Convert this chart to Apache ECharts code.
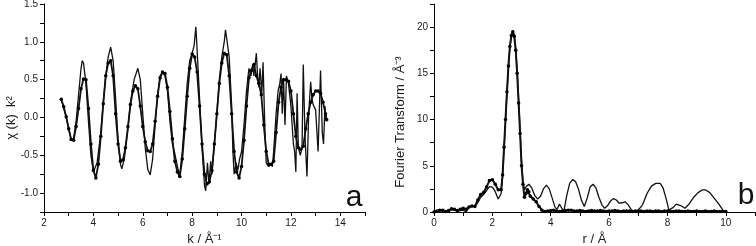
<!DOCTYPE html>
<html>
<head>
<meta charset="utf-8">
<script src="https://cdn.jsdelivr.net/npm/echarts@6/dist/echarts.min.js"></script>
<style>
html,body{margin:0;padding:0;background:#fff;}
#c{width:756px;height:246px;}
</style>
</head>
<body>
<div id="c"></div>
<script>
// ---- Panel a: chi(k) k^2 ----
const kMarked = [2.7,2.8,2.9,3.0,3.1,3.2,3.3,3.4,3.5,3.6,3.7,3.8,3.9,4.0,4.1,4.2,4.3,4.4,4.5,4.6,4.7,4.8,4.9,5.0,5.1,5.2,5.3,5.4,5.5,5.6,5.7,5.8,5.9,6.0,6.1,6.2,6.3,6.4,6.5,6.6,6.7,6.8,6.9,7.0,7.1,7.2,7.3,7.4,7.5,7.6,7.7,7.8,7.9,8.0,8.1,8.2,8.3,8.4,8.5,8.6,8.7,8.8,8.9,9.0,9.1,9.2,9.3,9.4,9.5,9.6,9.7,9.8,9.9,10.0,10.1,10.2,10.3,10.4,10.5,10.6,10.7,10.8,10.9,11.0,11.1,11.2,11.3,11.4,11.5,11.6,11.7,11.8,11.9,12.0,12.1,12.2,12.3,12.4,12.5,12.6,12.7,12.8,12.9,13.0,13.1,13.2,13.3,13.4,13.45];
const chiMarked = [0.24,0.14,0.01,-0.15,-0.29,-0.30,-0.12,0.12,0.38,0.51,0.50,0.12,-0.35,-0.70,-0.80,-0.62,-0.25,0.18,0.55,0.72,0.75,0.55,0.05,-0.35,-0.58,-0.56,-0.40,-0.12,0.17,0.35,0.42,0.38,0.15,-0.12,-0.32,-0.44,-0.45,-0.35,-0.05,0.28,0.52,0.60,0.58,0.40,0.08,-0.28,-0.58,-0.72,-0.78,-0.55,-0.15,0.28,0.65,0.84,0.80,0.60,0.15,-0.35,-0.75,-0.88,-0.85,-0.70,-0.35,0.05,0.45,0.72,0.85,0.83,0.55,0.05,-0.45,-0.72,-0.80,-0.65,-0.30,0.15,0.52,0.62,0.70,0.55,0.45,0.30,-0.10,-0.45,-0.62,-0.62,-0.58,-0.20,0.20,0.40,0.50,0.50,0.48,0.35,0.05,-0.25,-0.40,-0.42,-0.38,-0.15,0.05,0.20,0.30,0.35,0.35,0.32,0.20,0.05,-0.03];
const kPlain = [2.7,2.9,3.1,3.2,3.3,3.4,3.5,3.55,3.6,3.7,3.8,3.9,4.0,4.05,4.15,4.3,4.4,4.5,4.6,4.7,4.8,4.9,5.0,5.1,5.15,5.25,5.4,5.5,5.65,5.8,5.9,6.0,6.1,6.2,6.3,6.4,6.5,6.6,6.7,6.8,6.9,7.0,7.1,7.2,7.3,7.38,7.45,7.5,7.6,7.7,7.8,7.9,8.0,8.08,8.15,8.2,8.3,8.4,8.5,8.55,8.62,8.68,8.75,8.8,8.9,9.0,9.1,9.2,9.3,9.35,9.42,9.5,9.6,9.65,9.7,9.78,9.85,9.92,10.0,10.1,10.2,10.3,10.38,10.45,10.5,10.6,10.65,10.7,10.75,10.82,10.87,10.95,11.0,11.1,11.2,11.25,11.3,11.4,11.48,11.55,11.6,11.65,11.7,11.76,11.82,11.9,12.0,12.1,12.15,12.2,12.25,12.3,12.38,12.45,12.5,12.57,12.65,12.72,12.8,12.85,12.9,13.0,13.1,13.2,13.27,13.32,13.38,13.42];
const chiPlain = [0.24,0.0,-0.30,-0.28,-0.05,0.30,0.65,0.75,0.72,0.45,-0.05,-0.50,-0.72,-0.74,-0.60,-0.20,0.20,0.55,0.80,0.93,0.75,0.25,-0.30,-0.62,-0.68,-0.55,-0.15,0.20,0.50,0.65,0.50,0.05,-0.40,-0.68,-0.76,-0.55,-0.10,0.30,0.55,0.60,0.55,0.35,-0.05,-0.35,-0.48,-0.47,-0.72,-0.75,-0.45,0.0,0.45,0.75,0.85,0.95,1.20,0.90,0.25,-0.40,-0.90,-0.97,-0.60,-0.88,-0.58,-0.75,-0.35,0.05,0.50,0.80,1.0,1.16,1.18,0.80,0.15,-0.45,-0.75,-0.60,-0.70,-0.55,-0.45,-0.10,0.35,0.65,0.55,0.70,0.55,0.85,0.55,0.40,0.65,0.30,0.73,-0.20,-0.60,-0.65,-0.62,-0.65,-0.45,0.05,0.35,0.45,0.58,0.05,0.52,-0.10,0.55,0.45,0.15,-0.35,-0.45,-0.72,0.32,-0.40,-0.50,-0.40,0.70,-0.25,-0.78,0.05,0.47,0.25,0.17,0.10,-0.45,0.62,-0.20,-0.35,0.15,-0.05];

// ---- Panel b: Fourier transform ----
const rMarked = [0.0,0.1,0.2,0.3,0.4,0.5,0.6,0.7,0.8,0.9,1.0,1.1,1.2,1.3,1.4,1.5,1.6,1.7,1.8,1.9,2.0,2.1,2.2,2.3,2.35,2.4,2.45,2.5,2.55,2.6,2.65,2.7,2.75,2.8,2.85,2.9,2.95,3.0,3.05,3.1,3.15,3.2,3.25,3.3,3.4,3.5,3.6,3.7,3.8,3.9,4.0,4.1,4.2,4.3,4.4,4.5,4.6,4.7,4.8,4.9,5.0,5.1,5.2,5.3,5.4,5.5,5.6,5.7,5.8,5.9,6.0,6.1,6.2,6.3,6.4,6.5,6.6,6.7,6.8,6.9,7.0,7.1,7.2,7.3,7.4,7.5,7.6,7.7,7.8,7.9,8.0,8.1,8.2,8.3,8.4,8.5,8.6,8.7,8.8,8.9,9.0,9.1,9.2,9.3,9.4,9.5,9.6,9.7,9.8,9.9,10.0];
const ftMarked = [0.0,0.1,0.2,0.2,0.05,0.15,0.35,0.3,0.15,0.3,0.4,0.3,0.55,0.65,0.6,1.3,1.9,2.1,2.7,3.4,3.5,3.0,2.4,2.4,4.0,7.0,10.0,13.0,15.8,17.9,19.1,19.5,19.0,17.5,15.0,11.8,8.5,5.0,3.0,1.6,2.0,2.4,2.2,1.7,1.4,1.1,0.6,0.2,0.05,0.1,0.15,0.2,0.1,0.05,0.1,0.15,0.2,0.2,0.1,0.1,0.15,0.1,0.05,0.1,0.15,0.1,0.1,0.15,0.1,0.05,0.1,0.1,0.15,0.1,0.05,0.1,0.1,0.1,0.05,0.1,0.1,0.1,0.05,0.1,0.1,0.05,0.1,0.1,0.05,0.1,0.1,0.05,0.05,0.1,0.1,0.05,0.05,0.1,0.05,0.05,0.1,0.05,0.05,0.1,0.05,0.05,0.1,0.05,0.05,0.05,0.05];
const rPlain = [0.0,0.2,0.3,0.5,0.6,0.8,1.0,1.1,1.2,1.3,1.4,1.5,1.6,1.7,1.8,1.9,2.0,2.1,2.2,2.25,2.3,2.35,2.4,2.45,2.5,2.55,2.6,2.65,2.7,2.75,2.8,2.85,2.9,2.95,3.0,3.05,3.1,3.15,3.25,3.35,3.45,3.55,3.65,3.75,3.85,3.95,4.05,4.15,4.22,4.3,4.38,4.45,4.55,4.65,4.75,4.85,4.95,5.05,5.15,5.25,5.35,5.45,5.55,5.65,5.75,5.85,5.95,6.05,6.15,6.25,6.35,6.45,6.55,6.65,6.75,6.85,6.95,7.05,7.15,7.3,7.45,7.6,7.75,7.85,7.95,8.05,8.1,8.2,8.3,8.45,8.6,8.75,8.9,9.05,9.2,9.3,9.45,9.6,9.75,9.9,9.95];
const ftPlain = [0.0,0.1,0.15,0.05,0.25,0.1,0.2,0.0,0.5,0.7,0.6,1.0,1.6,1.9,2.3,2.75,2.7,2.2,1.4,1.3,2.0,3.8,6.8,9.8,12.8,15.6,17.8,19.0,19.6,19.1,17.7,15.3,12.2,8.9,5.5,3.3,2.4,2.7,3.0,2.6,1.8,1.4,1.7,2.5,2.9,2.5,1.5,0.5,0.3,0.85,0.4,0.1,1.8,3.1,3.5,3.3,2.5,1.3,0.6,1.5,2.7,3.0,2.6,1.6,0.8,0.4,0.7,1.2,1.45,1.3,0.95,1.0,1.1,0.8,0.3,0.0,0.05,0.4,0.8,2.0,2.8,3.1,3.1,2.6,1.5,0.2,0.0,0.5,0.85,0.7,0.4,0.9,1.6,2.1,2.4,2.4,2.1,1.5,0.9,0.2,0.0];

// ticks
const kTicks = [2,4,6,8,10,12,14];
const chiTicks = [-1.0,-0.5,0.0,0.5,1.0,1.5];
const rTicks = [0,2,4,6,8,10];
const ftTicks = [0,5,10,15,20];

const zip = (a,b) => a.map((v,i)=>[v,b[i]]);
const FONT = '"Liberation Sans", Arial, sans-serif';
const TXT = '#1a1a1a';

function xAxisCfg(gi, min, max, ticks, name, gap) {
  return {
    type:'value', gridIndex:gi, min:min, max:max, interval:1,
    name:name, nameLocation:'middle', nameGap:gap,
    nameTextStyle:{fontFamily:FONT, fontSize:13, color:TXT},
    axisLine:{show:true, onZero:false, lineStyle:{color:'#000', width:1}},
    axisTick:{show:true, inside:false, length:4, lineStyle:{color:'#000'}},
    axisLabel:{fontFamily:FONT, fontSize:10, color:TXT, margin:6,
      formatter: v => ticks.indexOf(v) >= 0 ? String(v) : ''},
    splitLine:{show:false}
  };
}
function yAxisCfg(gi, min, max, interval, ticks, fmt) {
  return {
    type:'value', gridIndex:gi, min:min, max:max, interval:interval,
    axisLine:{show:true, onZero:false, lineStyle:{color:'#000', width:1}},
    axisTick:{show:true, inside:false, length:4, lineStyle:{color:'#000'}},
    axisLabel:{fontFamily:FONT, fontSize:10, color:TXT, margin:6,
      formatter: v => ticks.some(t => Math.abs(t - v) < 1e-9) ? fmt(v) : ''},
    splitLine:{show:false}
  };
}

const chart = echarts.init(document.getElementById('c'), null, {renderer:'canvas'});
chart.setOption({
  animation:false,
  backgroundColor:'#fff',
  grid:[
    {left:44, top:4, width:321, height:208, containLabel:false, outerBoundsMode:'none'},
    {left:434, top:4, width:321, height:208, containLabel:false, outerBoundsMode:'none'}
  ],
  xAxis:[
    xAxisCfg(0, 2, 15, kTicks, 'k / Å⁻¹', 13),
    xAxisCfg(1, 0, 11, rTicks, 'r / Å', 13)
  ],
  yAxis:[
    yAxisCfg(0, -1.25, 1.5, 0.25, chiTicks, v => v.toFixed(1)),
    yAxisCfg(1, 0, 22.5, 2.5, ftTicks, v => String(Math.round(v)))
  ],
  graphic:[
    {type:'text', x:11, y:118, rotation:Math.PI/2,
      style:{text:'χ (k)  k²', font:'13px "Liberation Sans", Arial, sans-serif', fill:TXT, align:'center', verticalAlign:'middle'}},
    {type:'text', x:400, y:122, rotation:Math.PI/2,
      style:{text:'Fourier Transform / Å⁻³', font:'13px "Liberation Sans", Arial, sans-serif', fill:TXT, align:'center', verticalAlign:'middle'}},
    {type:'text', x:354, y:198, style:{text:'a', font:'30px "Liberation Sans", Arial, sans-serif', fill:'#111', align:'center', verticalAlign:'middle'}},
    {type:'text', x:746, y:196, style:{text:'b', font:'30px "Liberation Sans", Arial, sans-serif', fill:'#111', align:'center', verticalAlign:'middle'}}
  ],
  series:[
    {type:'line', xAxisIndex:0, yAxisIndex:0, data:zip(kPlain, chiPlain),
      showSymbol:false, symbol:'none', lineStyle:{color:'#111', width:1.3}, z:2},
    {type:'line', xAxisIndex:0, yAxisIndex:0, data:zip(kMarked, chiMarked),
      symbol:'circle', symbolSize:3.5, itemStyle:{color:'#000'}, lineStyle:{color:'#111', width:1.8}, z:3},
    {type:'line', xAxisIndex:1, yAxisIndex:1, data:zip(rPlain, ftPlain),
      showSymbol:false, symbol:'none', lineStyle:{color:'#111', width:1.3}, z:2},
    {type:'line', xAxisIndex:1, yAxisIndex:1, data:zip(rMarked, ftMarked),
      symbol:'circle', symbolSize:3.5, itemStyle:{color:'#000'}, lineStyle:{color:'#111', width:2}, z:3}
  ]
});
</script>
</body>
</html>
